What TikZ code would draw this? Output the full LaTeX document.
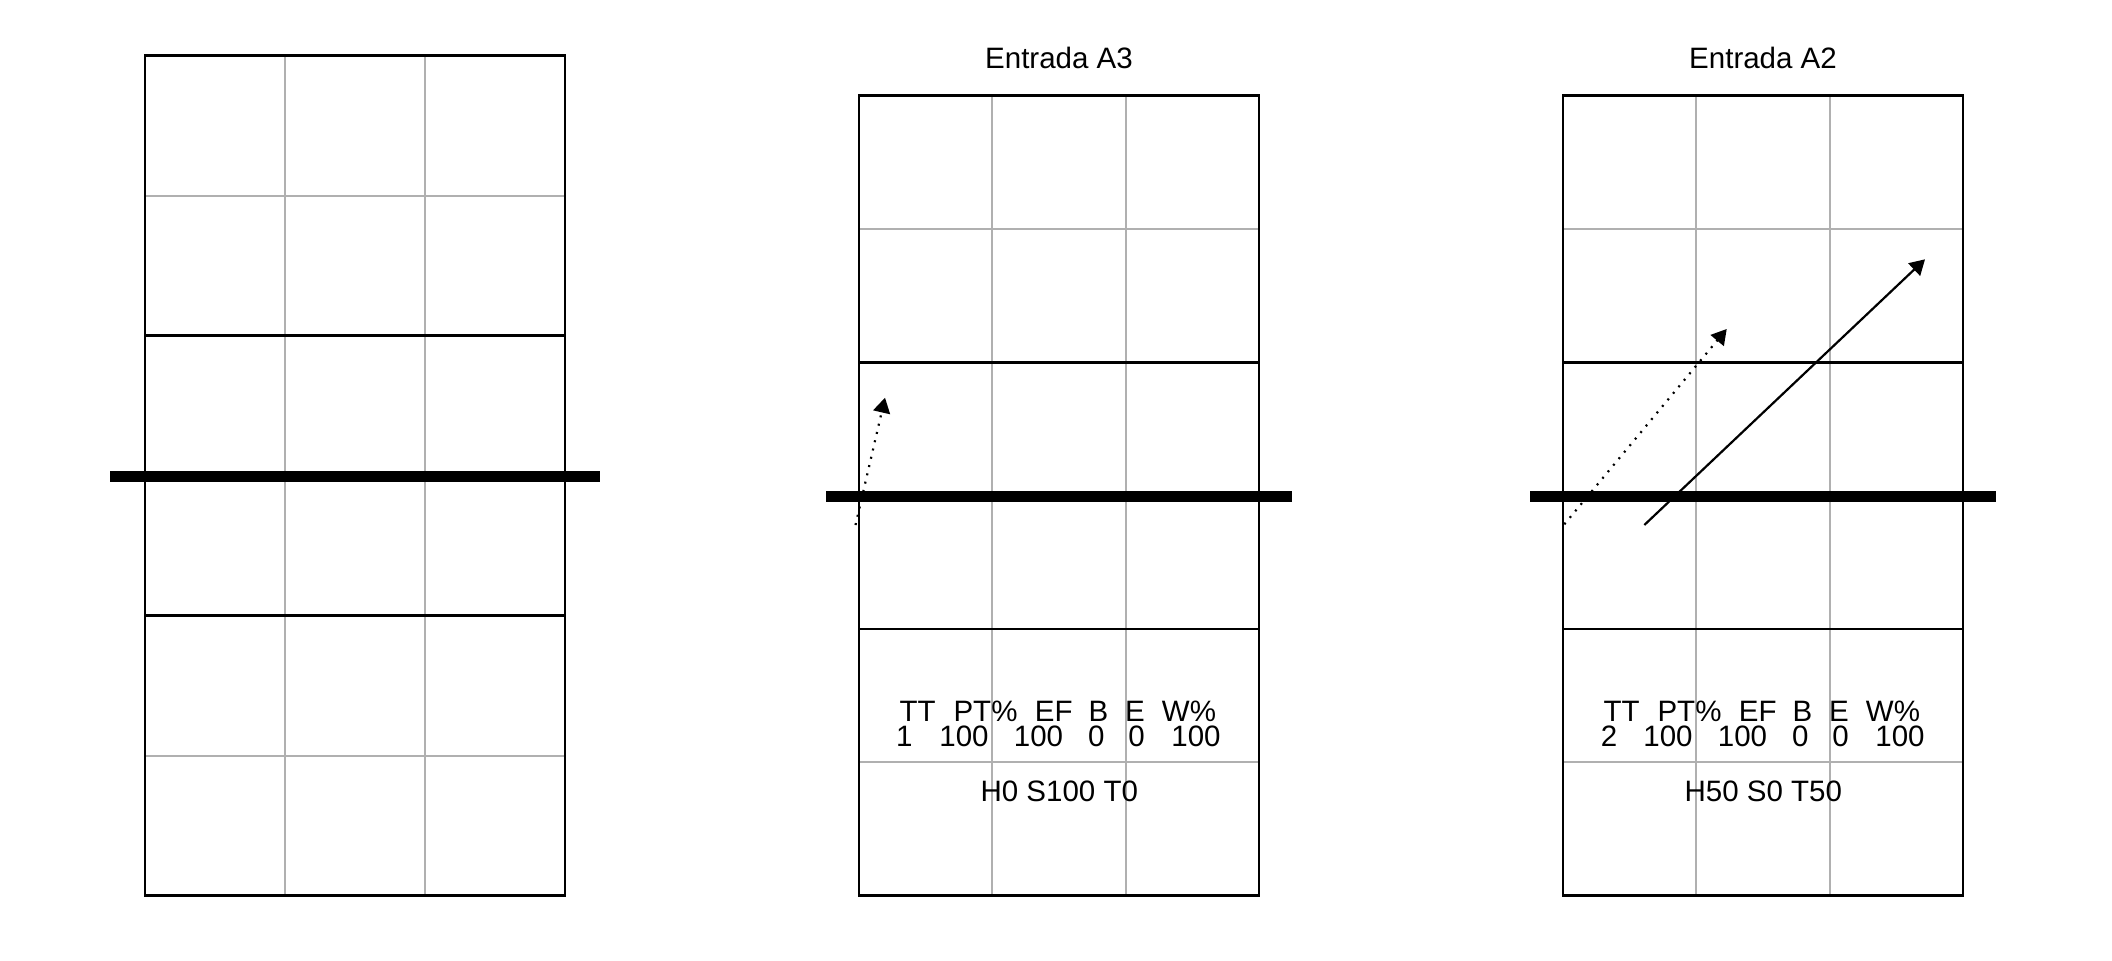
\documentclass[tikz,border=0pt]{standalone}
\usepackage{fontspec}
\setmainfont{Liberation Sans}
\usetikzlibrary{arrows.meta}
\definecolor{gridgray}{RGB}{176,176,176}
\begin{document}
\begin{tikzpicture}[x=0.5pt,y=-0.5pt,
  framebox/.style={draw=black,line width=1.25pt},
  grayline/.style={draw=gridgray,line width=1.1pt},
  blackline/.style={draw=black,line width=1.25pt},
  netline/.style={draw=black,line width=5.5pt},
  lbl/.style={anchor=base,inner sep=0pt,font=\fontsize{14.75pt}{16pt}\selectfont},
  solidarrow/.style={draw=black,line width=1.1pt,-{Triangle[length=7.5pt,width=8.5pt]}},
  dotarrow/.style={draw=black,line width=1.1pt,dash pattern=on 1pt off 3.25pt,-{Triangle[length=7.5pt,width=8.5pt]}}
]
\useasboundingbox[fill=white] (0,0) rectangle (2112,960);

% ---------- Panel 1 ----------
\foreach \x in {285,425} \draw[grayline] (\x,55.7) -- (\x,895.7);
\foreach \y in {195.7,755.7} \draw[grayline] (145,\y) -- (565,\y);
\foreach \y in {335.7,615.7} \draw[blackline] (145,\y) -- (565,\y);
\draw[framebox] (145,55.7) rectangle (565,895.7);
\draw[netline] (110,476.5) -- (600,476.5);

% ---------- Panel 2 ----------
\node[lbl] (t2) at (1059,68.5) {Entrada A3};
\foreach \x in {992.3,1125.7} \draw[grayline] (\x,95.7) -- (\x,895.7);
\foreach \y in {229,762.3} \draw[grayline] (859,\y) -- (1259,\y);
\foreach \y in {362.3,629} \draw[blackline] (859,\y) -- (1259,\y);
\draw[framebox] (859,95.7) rectangle (1259,895.7);
\draw[netline] (826,496.3) -- (1292,496.3);

\node[lbl] (h2a) at (917.7,721.3) {TT};
\node[lbl] (h2b) at (985.5,721.3) {PT\%};
\node[lbl] (h2c) at (1053.7,721.3) {EF};
\node[lbl] (h2d) at (1098.5,721.3) {B};
\node[lbl] (h2e) at (1135,721.3) {E};
\node[lbl] (h2f) at (1189,721.3) {W\%};
\node[lbl] (v2a) at (904.2,746.9) {1};
\node[lbl] (v2b) at (964,746.9) {100};
\node[lbl] (v2c) at (1038.5,746.9) {100};
\node[lbl] (v2d) at (1096.3,746.9) {0};
\node[lbl] (v2e) at (1136.5,746.9) {0};
\node[lbl] (v2f) at (1196,746.9) {100};
\node[lbl] (r2) at (1059.3,801.4) {H0 S100 T0};

\coordinate (d2s) at (855.5,525);
\coordinate (d2e) at (885,397.7);
\draw[dotarrow] (d2s) -- (d2e);

% ---------- Panel 3 ----------
\node[lbl] (t3) at (1763,68.5) {Entrada A2};
\foreach \x in {1696.3,1829.7} \draw[grayline] (\x,95.7) -- (\x,895.7);
\foreach \y in {229,762.3} \draw[grayline] (1563,\y) -- (1963,\y);
\foreach \y in {362.3,629} \draw[blackline] (1563,\y) -- (1963,\y);
\draw[framebox] (1563,95.7) rectangle (1963,895.7);
\draw[netline] (1530,496.3) -- (1996,496.3);

\node[lbl] (h3a) at (1621.7,721.3) {TT};
\node[lbl] (h3b) at (1689.5,721.3) {PT\%};
\node[lbl] (h3c) at (1757.7,721.3) {EF};
\node[lbl] (h3d) at (1802.5,721.3) {B};
\node[lbl] (h3e) at (1839,721.3) {E};
\node[lbl] (h3f) at (1893,721.3) {W\%};
\node[lbl] (v3a) at (1609,746.9) {2};
\node[lbl] (v3b) at (1668,746.9) {100};
\node[lbl] (v3c) at (1742.5,746.9) {100};
\node[lbl] (v3d) at (1800.3,746.9) {0};
\node[lbl] (v3e) at (1840.5,746.9) {0};
\node[lbl] (v3f) at (1900,746.9) {100};
\node[lbl] (r3) at (1763.3,801.4) {H50 S0 T50};

\coordinate (d3s) at (1564.3,524.3);
\coordinate (d3e) at (1726.7,329);
\draw[dotarrow] (d3s) -- (d3e);
\coordinate (s3s) at (1644.3,525);
\coordinate (s3e) at (1925,259.3);
\draw[solidarrow] (s3s) -- (s3e);
\end{tikzpicture}
\end{document}
